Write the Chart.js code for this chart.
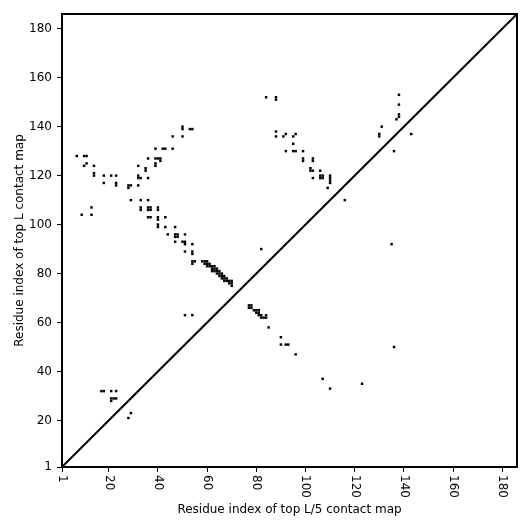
<!DOCTYPE html>
<html>
<head>
<meta charset="utf-8">
<script src="https://cdn.jsdelivr.net/npm/chart.js@4.4.1/dist/chart.umd.min.js"></script>
<style>
  body { margin: 0; background: #fff; }
</style>
</head>
<body>
<canvas id="map" width="531" height="531"></canvas>
<script>
// residue count of the protein
const seqLen = 186;
const tickValues = [1, 20, 40, 60, 80, 100, 120, 140, 160, 180];

// contacts, [x residue, y residue]
const upperLeft = [
  [50,140],[50,139],[53,139],[54,139],[46,136],[50,136],
  [39,131],[42,131],[43,131],[46,131],
  [36,127],[39,127],[40,127],[41,127],[41,126],
  [32,124],[35,123],[35,122],[39,125],[39,124],
  [7,128],[10,128],[11,128],[10,124],[11,125],[14,124],[14,121],[14,120],
  [18,120],[21,120],[23,120],[32,120],[32,119],[33,119],[36,119],
  [18,117],[23,117],[23,116],[28,116],[28,115],[29,116],[32,116],
  [29,110],[33,110],[36,110],
  [33,107],[33,106],[36,107],[37,107],[36,106],[37,106],[40,107],[40,106],
  [9,104],[13,104],[13,107],
  [36,103],[37,103],[40,103],[40,102],[43,103],
  [40,100],[40,99],[43,99],[47,99],
  [44,96],[47,96],[48,96],[47,95],[48,95],[51,96],
  [47,93],[50,93],[51,93],[51,92],[54,92],
  [51,89],[54,89],[54,88],[54,85],[55,85],[54,84]
];
const strandBand = [
  [58,85],[59,85],[59,84],[60,85],[60,84],[60,83],[61,84],[61,83],
  [62,83],[62,82],[62,81],[63,83],[63,82],[63,81],[64,82],[64,81],[64,80],
  [65,81],[65,80],[65,79],[66,80],[66,79],[66,78],[67,79],[67,78],[67,77],
  [68,78],[68,77],[69,77],[69,76],[70,77],[70,76],[70,75]
];
const lowerBand = [
  [77,67],[78,67],[77,66],[78,66],[79,65],[80,65],[81,65],[80,64],[81,64],
  [81,63],[82,63],[82,62],[83,62],[84,62],[84,63],[85,58]
];
const scattered = [
  [82,90],[51,63],[54,63],[90,54],[90,51],[92,51],[93,51],[96,47],
  [107,37],[110,33],[123,35],[136,50],[135,92],
  [17,32],[18,32],[21,32],[23,32],[21,29],[22,29],[21,28],[23,29],[29,23],[28,21]
];
const upperRight = [
  [84,152],[88,152],[88,151],[88,138],[88,136],[91,136],[92,137],[95,136],[96,137],[95,133],
  [92,130],[95,130],[96,130],[99,130],[99,127],[99,126],[103,127],[103,126],
  [102,123],[102,122],[103,122],[106,122],[103,119],[106,120],[107,120],[106,119],[107,119],
  [110,120],[110,119],[110,118],[110,117],[109,115],[116,110],
  [131,140],[130,137],[130,136],[143,137],[136,130],
  [138,153],[138,149],[138,145],[138,144],[137,143]
];

const contacts = upperLeft.concat(strandBand, lowerBand, scattered, upperRight)
  .map(p => ({ x: p[0], y: p[1] }));

Chart.defaults.font.family = 'DejaVu Sans';
Chart.defaults.font.size = 12;
Chart.defaults.color = '#000';

function setTicks(scale) {
  scale.ticks = tickValues.map(v => ({ value: v }));
}

// matplotlib style box around the plot
const frame = {
  id: 'frame',
  afterDraw(chart) {
    const a = chart.chartArea, c = chart.ctx;
    c.save();
    c.strokeStyle = '#000';
    c.lineWidth = 2;
    c.strokeRect(a.left, a.top, a.right - a.left, a.bottom - a.top);
    c.restore();
  }
};

// x tick labels turned clockwise
const xLabels = {
  id: 'xLabels',
  afterDraw(chart) {
    const c = chart.ctx, xs = chart.scales.x, y0 = chart.chartArea.bottom + 8;
    c.save();
    c.font = '12px "DejaVu Sans"';
    c.fillStyle = '#000';
    c.textAlign = 'left';
    c.textBaseline = 'middle';
    tickValues.forEach(v => {
      c.save();
      c.translate(xs.getPixelForValue(v), y0);
      c.rotate(Math.PI / 2);
      c.fillText(String(v), 0, 0);
      c.restore();
    });
    c.restore();
  }
};

var ctx = document.getElementById('map').getContext('2d');
var chart = new Chart(ctx, {
  type: 'scatter',
  data: {
    datasets: [
      {
        label: 'contacts',
        data: contacts,
        pointStyle: 'rect',
        pointRadius: 1.75,
        pointHoverRadius: 1.75,
        backgroundColor: '#000',
        borderWidth: 0
      },
      {
        type: 'line',
        label: 'diagonal',
        data: [{ x: 1, y: 1 }, { x: seqLen, y: seqLen }],
        borderColor: '#000',
        borderWidth: 2,
        pointRadius: 0,
        fill: false
      }
    ]
  },
  options: {
    responsive: false,
    animation: false,
    layout: { padding: { top: 14, right: 14, left: 0, bottom: 0 } },
    plugins: {
      legend: { display: false },
      tooltip: { enabled: false }
    },
    scales: {
      x: {
        type: 'linear',
        min: 1,
        max: seqLen,
        afterBuildTicks: setTicks,
        afterFit: scale => { scale.height = 64; },
        ticks: { display: false },
        grid: { drawOnChartArea: false, drawTicks: true, tickLength: 5, color: '#000' },
        border: { color: '#000', width: 2 },
        title: {
          display: true,
          text: 'Residue index of top L/5 contact map',
          padding: { top: 30, bottom: 14 }
        }
      },
      y: {
        type: 'linear',
        min: 1,
        max: seqLen,
        afterBuildTicks: setTicks,
        afterFit: scale => { scale.width = 62; },
        ticks: { padding: 5, color: '#000' },
        grid: { drawOnChartArea: false, drawTicks: true, tickLength: 5, color: '#000' },
        border: { color: '#000', width: 2 },
        title: {
          display: true,
          text: 'Residue index of top L contact map',
          padding: { top: 13, bottom: 2 }
        }
      }
    }
  },
  plugins: [frame, xLabels]
});
</script>
</body>
</html>
